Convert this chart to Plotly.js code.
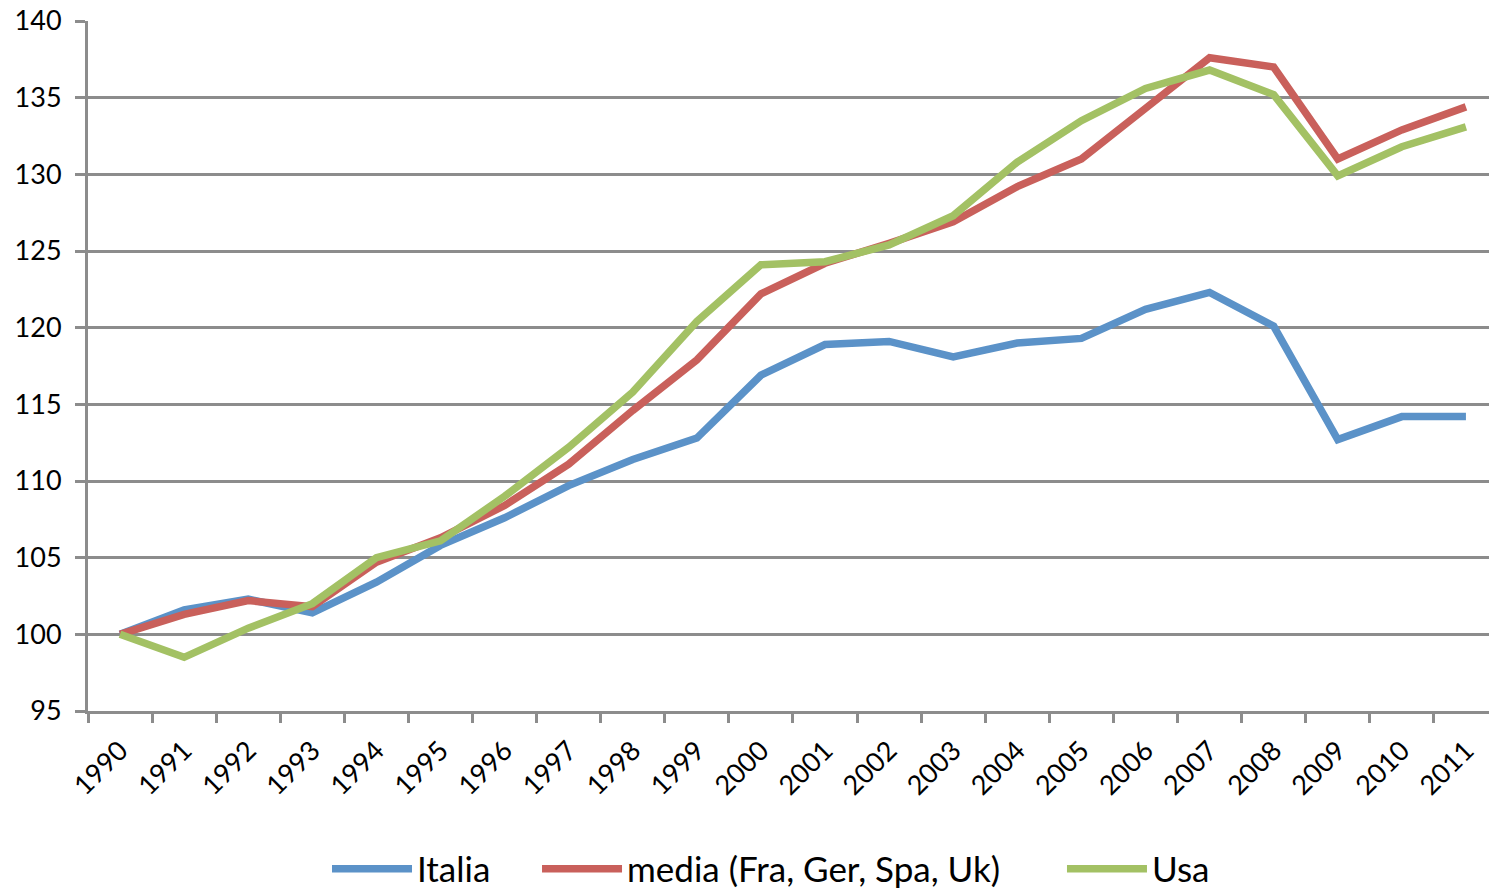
<!DOCTYPE html>
<html>
<head>
<meta charset="utf-8">
<script src="https://cdn.plot.ly/plotly-3.0.1.min.js"></script>
<style>
html, body { margin: 0; padding: 0; overflow: hidden; background: #fff; }
#chart { width: 1489px; height: 894px; }
</style>
</head>
<body>
<div id="chart"></div>
<script>
const years = ["1990","1991","1992","1993","1994","1995","1996","1997","1998","1999","2000","2001","2002","2003","2004","2005","2006","2007","2008","2009","2010","2011"];
const italia = [100, 101.6, 102.3, 101.4, 103.4, 105.8, 107.6, 109.7, 111.4, 112.8, 116.9, 118.9, 119.1, 118.1, 119.0, 119.3, 121.2, 122.3, 120.1, 112.7, 114.2, 114.2];
const media = [100, 101.3, 102.2, 101.8, 104.7, 106.3, 108.4, 111.1, 114.6, 117.9, 122.2, 124.2, 125.5, 126.9, 129.2, 131.0, 134.3, 137.6, 137.0, 131.0, 132.9, 134.4];
const usa = [100, 98.5, 100.4, 102.0, 105.0, 106.1, 109.0, 112.2, 115.8, 120.4, 124.1, 124.3, 125.4, 127.3, 130.8, 133.5, 135.6, 136.8, 135.2, 129.9, 131.8, 133.1];
const seriesNames = ["Italia", "media (Fra, Ger, Spa, Uk)", "Usa"];

const colors = ["#5B92C8", "#C9605B", "#A3C164"];
const font = "Lato, 'Open Sans', sans-serif";
const legendIds = ["legend", "legend2", "legend3"];
const legendX = [0.1706, 0.3205, 0.6952];

const traces = [italia, media, usa].map((vals, i) => ({
  type: "scatter",
  mode: "lines",
  x: years,
  y: vals,
  name: seriesNames[i],
  legend: legendIds[i],
  line: { color: colors[i], width: 7.5 }
}));

const layout = {
  width: 1489,
  height: 894,
  margin: { l: 88, r: 0, t: 21, b: 183, autoexpand: false },
  paper_bgcolor: "#ffffff",
  plot_bgcolor: "#ffffff",
  showlegend: true,
  font: { family: font, color: "#000" },
  xaxis: {
    type: "category",
    range: [-0.5, 21.36],
    tickson: "boundaries",
    ticks: "outside",
    ticklen: 9,
    tickwidth: 3,
    tickcolor: "#8c8c8c",
    showline: true,
    linecolor: "#8c8c8c",
    linewidth: 3,
    showgrid: false,
    zeroline: false,
    tickangle: -45,
    ticklabelstandoff: 10,
    automargin: false,
    tickfont: { family: font, size: 27, color: "#000" }
  },
  yaxis: {
    range: [95, 140],
    tickvals: [95, 100, 105, 110, 115, 120, 125, 130, 135, 140],
    ticks: "outside",
    ticklen: 10,
    tickwidth: 3,
    tickcolor: "#8c8c8c",
    showline: true,
    linecolor: "#8c8c8c",
    linewidth: 3,
    showgrid: true,
    gridcolor: "#8c8c8c",
    gridwidth: 3,
    zeroline: false,
    ticklabelstandoff: 8,
    automargin: false,
    tickfont: { family: font, size: 27, color: "#000" }
  }
};

legendIds.forEach((id, i) => {
  layout[id] = {
    orientation: "h",
    x: legendX[i],
    xanchor: "left",
    y: -0.229,
    yanchor: "middle",
    itemwidth: 80,
    font: { family: font, size: 35, color: "#000" },
    bgcolor: "rgba(0,0,0,0)"
  };
});

Plotly.newPlot("chart", traces, layout, { displayModeBar: false, staticPlot: true });
</script>
</body>
</html>
